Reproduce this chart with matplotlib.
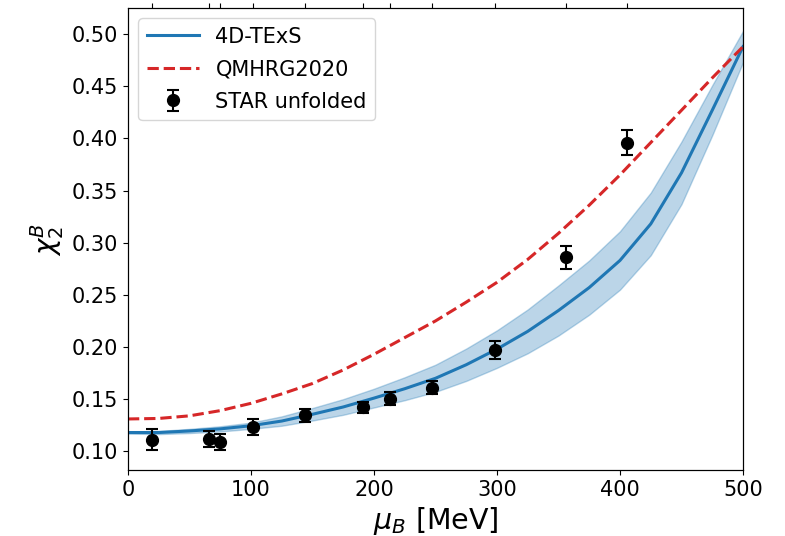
import numpy as np
import matplotlib
matplotlib.use("Agg")
import matplotlib.pyplot as plt

# STAR unfolded points
mu_star = [19.5, 66, 75, 102, 144, 191, 213, 247, 298, 356, 406]
chi_star = [0.111, 0.112, 0.109, 0.123, 0.1345, 0.142, 0.1505, 0.161, 0.197, 0.286, 0.396]
err_star = [0.010, 0.0075, 0.0075, 0.0075, 0.006, 0.005, 0.006, 0.0065, 0.0087, 0.011, 0.012]

# 4D-TExS central curve and band half-width
mu_tex = [0, 25, 50, 75, 100, 125, 150, 175, 200, 225, 250, 275, 300, 325, 350, 375, 400,
          425, 450, 475, 500]
chi_tex = [0.118, 0.118, 0.1195, 0.1215, 0.1245, 0.129, 0.1355, 0.1425, 0.151, 0.160, 0.170,
           0.183, 0.198, 0.215, 0.235, 0.257, 0.283, 0.318, 0.367, 0.427, 0.488]
band_tex = [0.001, 0.0015, 0.002, 0.0025, 0.003, 0.0045, 0.006, 0.0075, 0.009, 0.011, 0.013,
            0.0155, 0.018, 0.021, 0.024, 0.026, 0.028, 0.030, 0.030, 0.024, 0.015]

# QMHRG2020
mu_qm = [0, 25, 50, 75, 100, 125, 150, 175, 200, 225, 250, 275, 300, 325, 350, 375, 400,
         425, 450, 475, 500]
chi_qm = [0.131, 0.1315, 0.134, 0.139, 0.146, 0.155, 0.165, 0.178, 0.193, 0.209, 0.225,
          0.243, 0.262, 0.284, 0.309, 0.336, 0.365, 0.396, 0.427, 0.458, 0.488]

mu_tex = np.array(mu_tex); chi_tex = np.array(chi_tex); band_tex = np.array(band_tex)

fig = plt.figure(figsize=(7.85, 5.36), dpi=100)
ax = fig.add_axes([0.163, 0.123, 0.7835, 0.862])

ax.fill_between(mu_tex, chi_tex - band_tex, chi_tex + band_tex, color='tab:blue', alpha=0.3)
ax.plot(mu_tex, chi_tex, color='tab:blue', lw=2.2, label='4D-TExS')
ax.plot(mu_qm, chi_qm, color='tab:red', lw=2.2, ls='--', label='QMHRG2020')
ax.errorbar(mu_star, chi_star, yerr=err_star, fmt='o', color='black', ms=8.5, capsize=4,
            elinewidth=1.5, capthick=1.5, label='STAR unfolded')

ax.set_xlim(0, 500)
ax.set_ylim(0.082, 0.525)
ax.set_yticks(np.arange(0.10, 0.501, 0.05))
ax.yaxis.set_major_formatter(matplotlib.ticker.FormatStrFormatter('%.2f'))
ax.tick_params(labelsize=15)
ax.set_xlabel(r'$\mu_B$ [MeV]', fontsize=20.5)
ax.set_ylabel(r'$\chi_2^B$', fontsize=20)
ax.legend(loc='upper left', fontsize=15, handlelength=2.5, labelspacing=0.6)

ax2 = ax.twiny()
ax2.set_xlim(ax.get_xlim())
ax2.set_xticks(mu_star)
ax2.set_xticklabels([])

fig.savefig('out.png', dpi=100)
